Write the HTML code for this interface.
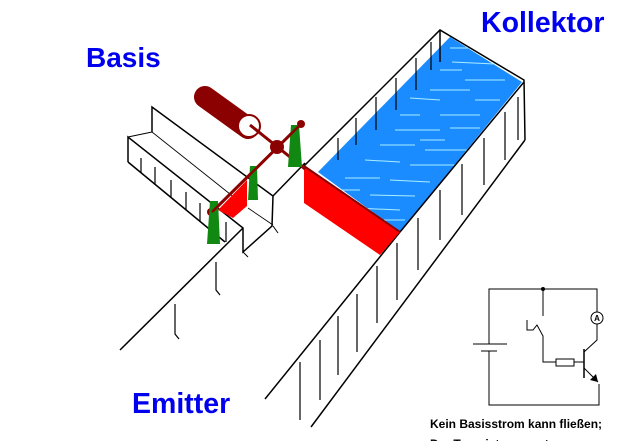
<!DOCTYPE html>
<html><head><meta charset="utf-8"><style>
html,body{margin:0;padding:0;background:#fff;overflow:hidden;}
svg{display:block;}
text{font-family:"Liberation Sans",Arial,sans-serif;font-weight:bold;}
</style></head><body>
<svg width="640" height="441" viewBox="0 0 640 441" xmlns="http://www.w3.org/2000/svg">
<g stroke="#000" stroke-width="1.5" fill="none">
<polygon points="318,172 450,37 522,82 400,232" fill="#1a8cff" stroke="none"/>
<g stroke="#aef" stroke-width="1">
<line x1="450" y1="48" x2="470" y2="48"/><line x1="452" y1="62" x2="495" y2="64"/>
<line x1="440" y1="70" x2="462" y2="70"/><line x1="465" y1="80" x2="505" y2="80"/>
<line x1="430" y1="90" x2="470" y2="90"/><line x1="475" y1="100" x2="500" y2="100"/>
<line x1="410" y1="98" x2="440" y2="100"/><line x1="440" y1="115" x2="480" y2="115"/>
<line x1="400" y1="115" x2="420" y2="115"/><line x1="395" y1="130" x2="440" y2="130"/>
<line x1="450" y1="128" x2="480" y2="128"/><line x1="380" y1="145" x2="415" y2="145"/>
<line x1="425" y1="150" x2="470" y2="150"/><line x1="365" y1="160" x2="400" y2="162"/>
<line x1="410" y1="165" x2="455" y2="165"/><line x1="345" y1="178" x2="380" y2="178"/>
<line x1="390" y1="180" x2="430" y2="182"/><line x1="338" y1="190" x2="360" y2="190"/>
<line x1="370" y1="195" x2="415" y2="196"/><line x1="355" y1="208" x2="400" y2="210"/>
<line x1="380" y1="220" x2="405" y2="220"/><line x1="420" y1="140" x2="445" y2="140"/>
</g>
<polyline points="304,166 440,30 524,80 525,140"/>
<line x1="440" y1="30" x2="440" y2="62"/>
<line x1="265" y1="399" x2="400" y2="232"/>
<line x1="400" y1="232" x2="524" y2="82"/>
<line x1="311" y1="427" x2="525" y2="140"/>
<polygon points="304,166 400,232 380,255 304,203" fill="#ff0000" stroke="none"/>
<line x1="304" y1="166" x2="400" y2="232" stroke="#8b0000" stroke-width="2"/>
<g stroke-width="1.2">
<line x1="300" y1="362" x2="300" y2="420"/>
<line x1="320" y1="340" x2="320" y2="400"/>
<line x1="338" y1="316" x2="338" y2="375"/>
<line x1="357" y1="294" x2="357" y2="352"/>
<line x1="377" y1="266" x2="377" y2="323"/>
<line x1="397" y1="243" x2="397" y2="300"/>
<line x1="418" y1="218" x2="418" y2="270"/>
<line x1="440" y1="190" x2="440" y2="240"/>
<line x1="462" y1="164" x2="462" y2="215"/>
<line x1="484" y1="138" x2="484" y2="185"/>
<line x1="505" y1="112" x2="505" y2="160"/>
<line x1="518" y1="97" x2="518" y2="140"/>
<line x1="338" y1="138" x2="338" y2="160"/>
<line x1="356" y1="118" x2="356" y2="145"/>
<line x1="376" y1="97" x2="376" y2="130"/>
<line x1="396" y1="78" x2="396" y2="110"/>
<line x1="416" y1="58" x2="416" y2="90"/>
<line x1="431" y1="42" x2="431" y2="70"/>
</g>
<polyline points="128,162 128,137 243,228 243,252 272,226 273,196 152,107 152,132"/>
<line x1="128" y1="162" x2="225" y2="242"/>
<line x1="243" y1="228" x2="120" y2="350"/>
<line x1="273" y1="196" x2="305" y2="163"/>
<line x1="128" y1="137" x2="152" y2="132" stroke-width="1"/>
<line x1="152" y1="132" x2="240" y2="202" stroke-width="0.8"/>
<line x1="248" y1="208" x2="273" y2="225" stroke-width="0.8"/>
<path d="M273,226 l5,7" stroke-width="1"/>
<path d="M243,252 l5,5" stroke-width="1"/>
<g stroke-width="1.2">
<line x1="141" y1="158" x2="141" y2="173"/>
<line x1="155" y1="167" x2="155" y2="185"/>
<line x1="171" y1="180" x2="171" y2="198"/>
<line x1="186" y1="192" x2="186" y2="210"/>
<line x1="200" y1="203" x2="200" y2="222"/>
<line x1="226" y1="222" x2="226" y2="242"/>
<path d="M216,262 v28 l4,5"/>
<path d="M175,304 v30 l4,5"/>
</g>
</g>
<polygon points="218,210 247,180 247,206 233,218" fill="#ff0000"/>
<g>
<line x1="205" y1="97" x2="248" y2="128" stroke="#8b0000" stroke-width="22" stroke-linecap="round"/>
<circle cx="249" cy="126" r="11" fill="#fff" stroke="#8b0000" stroke-width="2"/>
<line x1="250" y1="125" x2="305" y2="169" stroke="#8b0000" stroke-width="3"/>
<line x1="301" y1="124" x2="212" y2="212" stroke="#8b0000" stroke-width="3"/>
<circle cx="301" cy="124" r="4" fill="#8b0000"/>
<circle cx="211" cy="212" r="4" fill="#8b0000"/>
<circle cx="277" cy="147" r="7" fill="#8b0000"/>
</g>
<polygon points="291,125 299,125 302,167 288,167" fill="#118811"/>
<polygon points="250,166 257,166 258,200 248,200" fill="#118811"/>
<polygon points="210,201 218,201 220,244 207,244" fill="#118811"/>
<line x1="301" y1="124" x2="212" y2="212" stroke="#8b0000" stroke-width="2.5"/>
<text x="86" y="67" font-size="28" fill="#0000ee">Basis</text>
<text x="481" y="32" font-size="28.5" fill="#0000ee">Kollektor</text>
<text x="132" y="413" font-size="28.5" fill="#0000ee">Emitter</text>
<text x="430" y="428" font-size="12" fill="#000">Kein Basisstrom kann fließen;</text>
<text x="430" y="448" font-size="12" fill="#000">Der Transistor sperrt.</text>
<g stroke="#000" stroke-width="1" fill="none">
<polyline points="489,344 489,289 597,289 597,312"/>
<polyline points="489,351 489,405 599,405 599,384"/>
<line x1="473" y1="344" x2="507" y2="344"/>
<line x1="481" y1="351" x2="497" y2="351"/>
<circle cx="543" cy="289" r="1.5" fill="#000"/>
<line x1="543" y1="289" x2="543" y2="316"/>
<polyline points="527,320 527,330 533,330 537,325 543,336 543,362 556,362"/>
<rect x="556" y="359" width="18" height="7"/>
<line x1="574" y1="362" x2="584" y2="362"/>
<line x1="584" y1="349" x2="584" y2="378" stroke-width="1.5"/>
<circle cx="597" cy="318" r="6"/>
<polyline points="597,324 597,340 584,352"/>
<line x1="584" y1="368" x2="598" y2="382"/>
</g>
<polygon points="598,382 590,380 596,374" fill="#000"/>
<text x="597" y="321" font-size="8" text-anchor="middle" fill="#000">A</text>
</svg>
</body></html>
